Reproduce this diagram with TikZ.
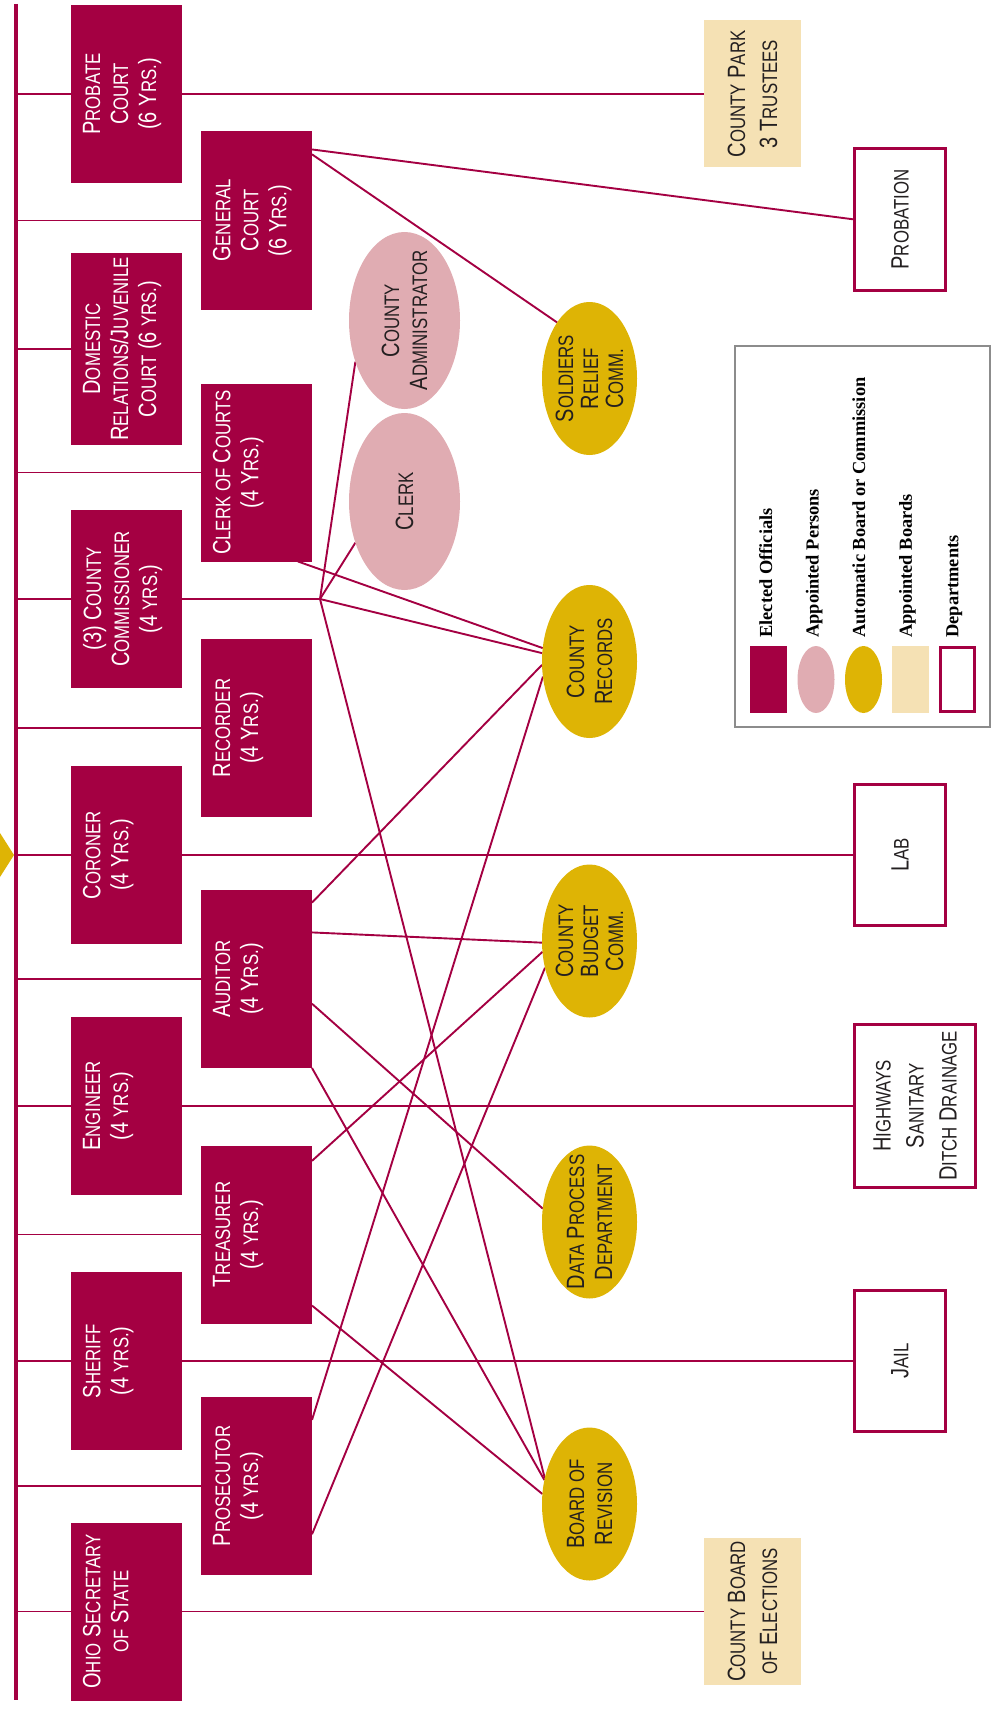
\documentclass[tikz,border=0pt]{standalone}
\usepackage{fontspec}
\usepackage{graphicx}
\usetikzlibrary{shapes.geometric,backgrounds}
\newfontfamily\condfont{Liberation Sans}[FakeStretch=0.8]
\newfontfamily\legendfont{Liberation Serif}
\definecolor{crimson}{RGB}{164,0,66}
\definecolor{pinkish}{RGB}{224,172,178}
\definecolor{gold}{RGB}{222,180,5}
\definecolor{beige}{RGB}{245,225,180}
\definecolor{legendgray}{RGB}{140,140,140}
\definecolor{inkgray}{RGB}{35,31,32}
\newcommand\smallcap[1]{{\fontsize{10.5}{14}\selectfont #1}}
\begin{document}
\begin{tikzpicture}[x=0.5pt,y=-0.5pt,
    elected/.style={rectangle,fill=crimson,minimum width=55.5pt,minimum height=89pt,inner sep=0pt,outer sep=0pt},
    appointed/.style={ellipse,fill=pinkish,minimum width=55.5pt,minimum height=88.5pt,inner sep=0pt,outer sep=0pt},
    commission/.style={ellipse,fill=gold,minimum width=47.5pt,minimum height=76.5pt,inner sep=0pt,outer sep=0pt},
    board/.style={rectangle,fill=beige,minimum width=48.5pt,minimum height=73.5pt,inner sep=0pt,outer sep=0pt},
    dept/.style={rectangle,draw=crimson,line width=1.65pt,fill=white,minimum width=45.3pt,minimum height=70.8pt,inner sep=0pt,outer sep=0pt},
    boxtext/.style={rotate=90,align=center,inner sep=0pt,font=\condfont\fontsize{12.5}{14}\selectfont},
    lefttext/.style={boxtext,anchor=north,inner sep=5.75pt,text=white},
    midtext/.style={boxtext,anchor=center,text=inkgray},
    link/.style={crimson,line width=0.95pt},
    bus/.style={crimson,line width=2pt},
    legendtext/.style={rotate=90,anchor=base west,inner sep=0pt,font=\legendfont\bfseries\fontsize{9.2}{11}\selectfont}]
        \useasboundingbox (0,0) rectangle (996,1712);

        \coordinate (bustop) at (16,4);
        \coordinate (busbot) at (16,1700);
        \coordinate (hub) at (320,599);

        \node[elected,label={[lefttext]west:{P\smallcap{ROBATE}\\C\smallcap{OURT}\\(6 Y\smallcap{RS.})}}] (probate) at (126.5,94) {};
        \node[elected,minimum height=96pt,label={[lefttext]west:{D\smallcap{OMESTIC}\\R\smallcap{ELATIONS}/J\smallcap{UVENILE}\\C\smallcap{OURT} (6 \smallcap{YRS.})}}] (domestic) at (126.5,349) {};
        \node[elected,label={[lefttext]west:{(3) C\smallcap{OUNTY}\\C\smallcap{OMMISSIONER}\\(4 \smallcap{YRS.})}}] (commissioner) at (126.5,599) {};
        \node[elected,label={[lefttext]west:{C\smallcap{ORONER}\\(4 Y\smallcap{RS.})}}] (coroner) at (126.5,855) {};
        \node[elected,label={[lefttext]west:{E\smallcap{NGINEER}\\(4 \smallcap{YRS.})}}] (engineer) at (126.5,1106) {};
        \node[elected,label={[lefttext]west:{S\smallcap{HERIFF}\\(4 \smallcap{YRS.})}}] (sheriff) at (126.5,1361) {};
        \node[elected,label={[lefttext]west:{O\smallcap{HIO} S\smallcap{ECRETARY}\\\smallcap{OF} S\smallcap{TATE}}}] (ohio) at (126.5,1611.5) {};

        \node[elected,label={[lefttext]west:{G\smallcap{ENERAL}\\C\smallcap{OURT}\\(6 Y\smallcap{RS.})}}] (general) at (256.5,220.5) {};
        \node[elected,label={[lefttext]west:{C\smallcap{LERK OF} C\smallcap{OURTS}\\(4 Y\smallcap{RS.})}}] (clerkcourts) at (256.5,472.5) {};
        \node[elected,label={[lefttext]west:{R\smallcap{ECORDER}\\(4 Y\smallcap{RS.})}}] (recorder) at (256.5,728) {};
        \node[elected,label={[lefttext]west:{A\smallcap{UDITOR}\\(4 Y\smallcap{RS.})}}] (auditor) at (256.5,979) {};
        \node[elected,label={[lefttext]west:{T\smallcap{REASURER}\\(4 \smallcap{YRS.})}}] (treasurer) at (256.5,1234.5) {};
        \node[elected,label={[lefttext]west:{P\smallcap{ROSECUTOR}\\(4 \smallcap{YRS.})}}] (prosecutor) at (256.5,1486) {};

        \node[appointed,label={[midtext]center:{C\smallcap{OUNTY}\\A\smallcap{DMINISTRATOR}}}] (admin) at (404.5,320.5) {};
        \node[appointed,label={[midtext]center:{C\smallcap{LERK}}}] (clerk) at (404.5,501.5) {};

        \node[commission,label={[midtext,font=\condfont\fontsize{12.5}{12.5}\selectfont]center:{S\smallcap{OLDIERS}\\R\smallcap{ELIEF}\\C\smallcap{OMM.}}}] (soldiers) at (589.5,378.5) {};
        \node[commission,label={[midtext]center:{C\smallcap{OUNTY}\\R\smallcap{ECORDS}}}] (records) at (589.5,661.5) {};
        \node[commission,label={[midtext,font=\condfont\fontsize{12.5}{12.5}\selectfont]center:{C\smallcap{OUNTY}\\B\smallcap{UDGET}\\C\smallcap{OMM.}}}] (budget) at (589.5,941) {};
        \node[commission,label={[midtext]center:{D\smallcap{ATA} P\smallcap{ROCESS}\\D\smallcap{EPARTMENT}}}] (dataproc) at (589.5,1222) {};
        \node[commission,label={[midtext]center:{B\smallcap{OARD OF}\\R\smallcap{EVISION}}}] (revision) at (589.5,1504) {};

        \node[board,label={[midtext,font=\condfont\fontsize{12.5}{16}\selectfont]center:{C\smallcap{OUNTY} P\smallcap{ARK}\\3 T\smallcap{RUSTEES}}}] (park) at (752.5,94) {};
        \node[board,label={[midtext,font=\condfont\fontsize{12.5}{16}\selectfont]center:{C\smallcap{OUNTY} B\smallcap{OARD}\\\smallcap{OF} E\smallcap{LECTIONS}}}] (elections) at (752.5,1611.5) {};

        \node[dept,label={[midtext]center:{P\smallcap{ROBATION}}}] (probation) at (900,219.5) {};
        \node[dept,label={[midtext]center:{L\smallcap{AB}}}] (lab) at (900,855) {};
        \node[dept,minimum width=60.3pt,minimum height=81.8pt,label={[midtext,font=\condfont\fontsize{12.5}{16.5}\selectfont]center:{H\smallcap{IGHWAYS}\\S\smallcap{ANITARY}\\D\smallcap{ITCH} D\smallcap{RAINAGE}}}] (highways) at (915,1106) {};
        \node[dept,label={[midtext]center:{J\smallcap{AIL}}}] (jail) at (900,1361) {};

        \node[draw=legendgray,line width=0.6pt,minimum width=127.5pt,minimum height=190.5pt,inner sep=0pt] (legend) at (862.5,536.5) {};
        \node[elected,minimum width=18.5pt,minimum height=33.5pt] (keyelected) at (768.5,679.5) {};
        \node[appointed,minimum width=18.5pt,minimum height=33.5pt] (keyappointed) at (816,679.5) {};
        \node[commission,minimum width=18.5pt,minimum height=33.5pt] (keycommission) at (863.5,679.5) {};
        \node[board,minimum width=18.5pt,minimum height=33.5pt] (keyboard) at (910.5,679.5) {};
        \node[dept,minimum width=16.85pt,minimum height=31.85pt] (keydept) at (957.5,679.5) {};
        \node[legendtext] (txtelected) at (772,638) {Elected Officials};
        \node[legendtext] (txtappointed) at (818.6,638) {Appointed Persons};
        \node[legendtext] (txtcommission) at (865.2,638) {Automatic Board or Commission};
        \node[legendtext] (txtboard) at (911.8,638) {Appointed Boards};
        \node[legendtext] (txtdept) at (958.4,638) {Departments};

        \begin{scope}[on background layer]
        \fill[gold] (0,833) -- (14,855) -- (0,877) -- cycle;
        \draw[bus] (bustop) -- (busbot);
        \draw[link] (bustop |- probate) -- (park);
        \draw[link] (bustop |- general) -- (general);
        \draw[link] (bustop |- domestic) -- (domestic);
        \draw[link] (bustop |- clerkcourts) -- (clerkcourts);
        \draw[link] (bustop |- commissioner) -- (hub);
        \draw[link] (bustop |- recorder) -- (recorder);
        \draw[link] (bustop |- coroner) -- (lab);
        \draw[link] (bustop |- auditor) -- (auditor);
        \draw[link] (bustop |- engineer) -- (highways);
        \draw[link] (bustop |- treasurer) -- (treasurer);
        \draw[link] (bustop |- sheriff) -- (jail);
        \draw[link] (bustop |- prosecutor) -- (prosecutor);
        \draw[link] (bustop |- ohio) -- (elections);

        \draw[link] (general.52) -- (probation.west);
        \draw[link] (general.50) -- (soldiers.120);
        \draw[link] (hub) -- (admin.220);
        \draw[link] (hub) -- (clerk.220);
        \draw[link] (hub) -- (records.170);
        \draw[link] (hub) -- (revision.150);
        \draw[link] (clerkcourts.295) -- (records.164);
        \draw[link] (auditor.54) -- (records.184);
        \draw[link] (auditor.40) -- (budget.182);
        \draw[link] (auditor.336) -- (dataproc.164);
        \draw[link] (auditor.south east) -- (revision.152);
        \draw[link] (treasurer.53) -- (budget.193);
        \draw[link] (treasurer.308) -- (revision.168);
        \draw[link] (prosecutor.50) -- (records.198);
        \draw[link] (prosecutor.319) -- (budget.211);
        \end{scope}

    \end{tikzpicture}
\end{document}
